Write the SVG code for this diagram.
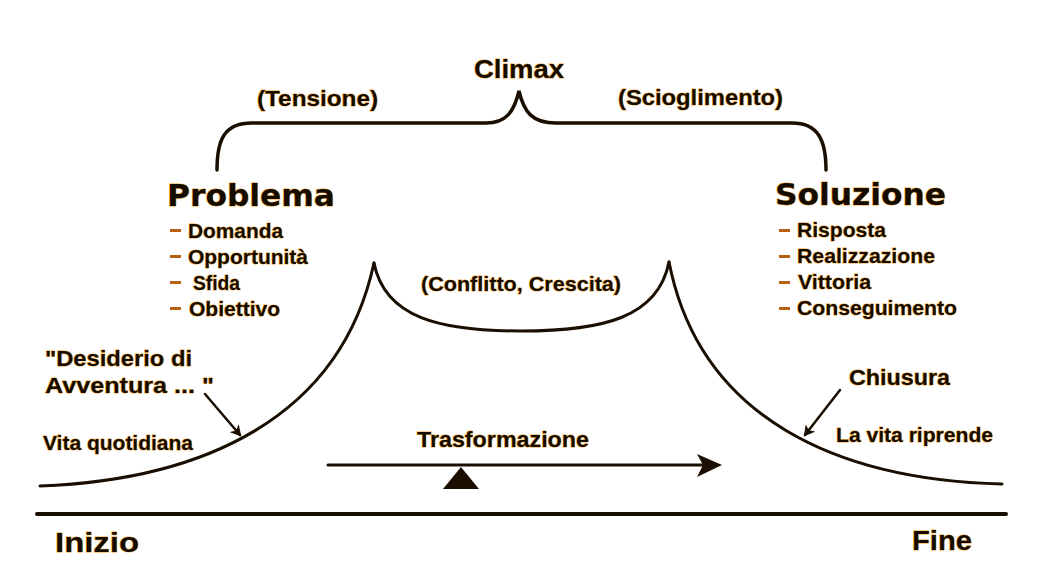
<svg xmlns="http://www.w3.org/2000/svg" width="1042" height="581" viewBox="0 0 1042 581">
<style>
.t{font-family:"Liberation Sans",Arial,sans-serif;font-weight:bold;fill:#150c00;stroke:#f2a531;stroke-width:0.9;paint-order:stroke;}
.h{font-family:"DejaVu Sans","Liberation Sans",sans-serif;font-weight:bold;fill:#150c00;stroke:#f2a531;stroke-width:1;paint-order:stroke;font-size:31px;}
.d{fill:#b5610f;}
.ln{fill:none;stroke:#1a0e00;stroke-linecap:round;}
</style>
<defs>
<marker id="ah" markerWidth="12" markerHeight="12" refX="9" refY="6" orient="auto" markerUnits="userSpaceOnUse">
<path d="M0,0 L11,6 L0,12 L3,6 Z" fill="#1a0e00"/>
</marker>
</defs>
<rect width="1042" height="581" fill="#ffffff"/>

<g id="climax">
<text class="t" x="474" y="78" font-size="26" textLength="90" lengthAdjust="spacingAndGlyphs">Climax</text>
<text class="t" x="257" y="106" font-size="22" textLength="121" lengthAdjust="spacingAndGlyphs">(Tensione)</text>
<text class="t" x="618" y="105" font-size="22" textLength="165" lengthAdjust="spacingAndGlyphs">(Scioglimento)</text>
</g>

<g id="problema">
<text class="h" x="167" y="206" textLength="168" lengthAdjust="spacingAndGlyphs">Problema</text>
<rect class="d" x="170" y="229" width="11" height="3"/>
<text class="t" x="188" y="238" font-size="20.5" textLength="95" lengthAdjust="spacingAndGlyphs">Domanda</text>
<rect class="d" x="170" y="255" width="11" height="3"/>
<text class="t" x="188" y="264" font-size="20.5" textLength="120" lengthAdjust="spacingAndGlyphs">Opportunità</text>
<rect class="d" x="170" y="281" width="11" height="3"/>
<text class="t" x="193" y="290" font-size="20.5" textLength="47" lengthAdjust="spacingAndGlyphs">Sfida</text>
<rect class="d" x="170" y="307" width="11" height="3"/>
<text class="t" x="189" y="316" font-size="20.5" textLength="91" lengthAdjust="spacingAndGlyphs">Obiettivo</text>
</g>

<g id="soluzione">
<text class="h" x="775" y="205" textLength="171" lengthAdjust="spacingAndGlyphs">Soluzione</text>
<rect class="d" x="779" y="229" width="11" height="3"/>
<text class="t" x="797" y="237" font-size="20.5" textLength="89" lengthAdjust="spacingAndGlyphs">Risposta</text>
<rect class="d" x="779" y="255" width="11" height="3"/>
<text class="t" x="797" y="263" font-size="20.5" textLength="138" lengthAdjust="spacingAndGlyphs">Realizzazione</text>
<rect class="d" x="779" y="281" width="11" height="3"/>
<text class="t" x="798" y="289" font-size="20.5" textLength="73" lengthAdjust="spacingAndGlyphs">Vittoria</text>
<rect class="d" x="779" y="307" width="11" height="3"/>
<text class="t" x="797" y="315" font-size="20.5" textLength="160" lengthAdjust="spacingAndGlyphs">Conseguimento</text>
</g>

<g id="conflitto">
<text class="t" x="421" y="291" font-size="20.5" textLength="200" lengthAdjust="spacingAndGlyphs">(Conflitto, Crescita)</text>
</g>

<g id="inizio-labels">
<text class="t" x="45" y="366" font-size="22" textLength="147" lengthAdjust="spacingAndGlyphs">"Desiderio di</text>
<text class="t" x="45" y="393" font-size="22" textLength="169" lengthAdjust="spacingAndGlyphs">Avventura ... "</text>
<text class="t" x="43" y="450" font-size="20" textLength="150" lengthAdjust="spacingAndGlyphs">Vita quotidiana</text>
</g>

<g id="fine-labels">
<text class="t" x="849" y="385" font-size="22" textLength="101" lengthAdjust="spacingAndGlyphs">Chiusura</text>
<text class="t" x="836" y="442" font-size="20" textLength="157" lengthAdjust="spacingAndGlyphs">La vita riprende</text>
</g>

<g id="trasformazione">
<text class="t" x="417" y="447" font-size="21.5" textLength="172" lengthAdjust="spacingAndGlyphs">Trasformazione</text>
<path d="M443,489 L461,467 L479,489 Z" fill="#1a0e00"/>
</g>

<g id="timeline">
<text class="t" x="55" y="552" font-size="28" textLength="84" lengthAdjust="spacingAndGlyphs">Inizio</text>
<text class="t" x="912" y="550" font-size="28" textLength="60" lengthAdjust="spacingAndGlyphs">Fine</text>
</g>

<g id="connectors">
<path class="ln" stroke-width="3.5" d="M217,170 C217,140 224,123 252,123 L486,123 C506,123 514,112 519,91 C524,112 532,123 556,123 L792,123 C818,123 826,140 826,170"/>
<path class="ln" stroke-width="3" d="M40,486 C200,480 340,420 374,263"/>
<path class="ln" stroke-width="3" d="M374,263 C385,318 440,331 521,331 C602,331 658,318 669,262"/>
<path class="ln" stroke-width="3" d="M669,262 C700,420 840,480 1002,484"/>
<path class="ln" stroke-width="2.5" d="M205,394 L240,435" marker-end="url(#ah)"/>
<path class="ln" stroke-width="2.5" d="M840,390 L805,435" marker-end="url(#ah)"/>
<path class="ln" stroke-width="3" d="M328,465 L706,465"/>
<path d="M697,454 L722,465 L697,477 L703,465 Z" fill="#1a0e00"/>
<path class="ln" stroke-width="4" d="M37,514 L1006,514"/>
</g>
</svg>
